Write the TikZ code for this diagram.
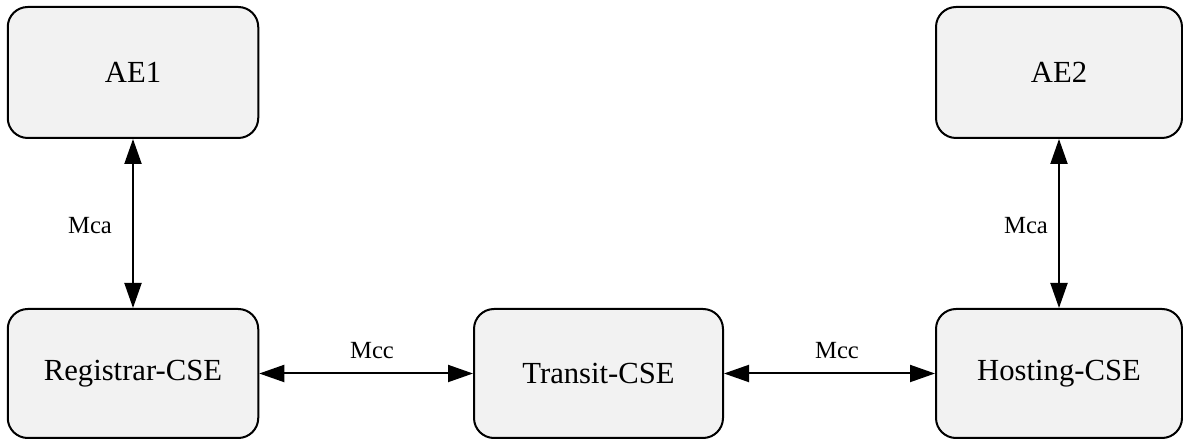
\documentclass[tikz,border=0pt]{standalone}
\usepackage{fontspec}
\setmainfont{Liberation Serif}
\usetikzlibrary{arrows.meta}
\definecolor{boxfill}{HTML}{F2F2F2}
\tikzset{
  entity/.style={draw=black, fill=boxfill, line width=1.5pt, rounded corners=15pt,
    inner sep=0pt, font=\fontsize{23}{27}\selectfont},
  link/.style={line width=1.5pt, {Triangle[length=18.75pt,width=12.75pt]}-{Triangle[length=18.75pt,width=12.75pt]}},
  lbl/.style={font=\fontsize{18.5}{22}\selectfont, inner sep=0pt}
}
\begin{document}
\begin{tikzpicture}[x=0.75pt,y=-0.75pt]
\useasboundingbox (0,0) rectangle (1183,441);
\node[entity, minimum width=250.5*0.75pt, minimum height=131*0.75pt] (ae1) at (133,72.5) {AE1};
\node[entity, minimum width=246*0.75pt, minimum height=131*0.75pt] (ae2) at (1059,72.5) {AE2};
\node[entity, minimum width=250.5*0.75pt, minimum height=129*0.75pt] (reg) at (133,373.5) {Registrar-CSE};
\node[entity, minimum width=249*0.75pt, minimum height=129*0.75pt] (tra) at (598.5,373.5) {Transit-CSE};
\node[entity, minimum width=246*0.75pt, minimum height=129*0.75pt] (hos) at (1059,373.5) {Hosting-CSE};
\draw[link] (ae1) -- (reg);
\draw[link] (ae2) -- (hos);
\draw[link] (reg) -- (tra);
\draw[link] (tra) -- (hos);
\node[lbl] (l1) at (90,226) {Mca};
\node[lbl] (l2) at (1026,226) {Mca};
\node[lbl] (l3) at (372,351) {Mcc};
\node[lbl] (l4) at (837,351) {Mcc};
\end{tikzpicture}
\end{document}
